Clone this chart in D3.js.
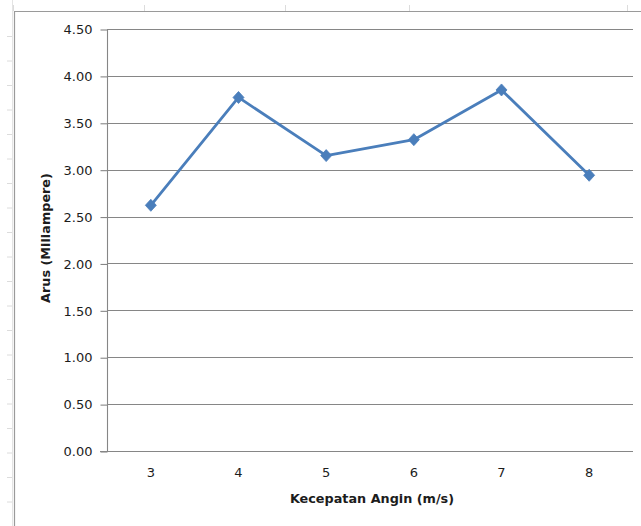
<!DOCTYPE html>
<html>
<head>
<meta charset="utf-8">
<script src="https://cdn.jsdelivr.net/npm/d3@7"></script>
<style>
  html, body { margin: 0; padding: 0; background: #ffffff; }
  svg { display: block; }
  text { font-family: "DejaVu Sans", sans-serif; fill: #1c1c1c; }
</style>
</head>
<body>
<svg id="chart" width="641" height="526"></svg>
<script>
// Wind speed categories (m/s)
const speeds = ["3", "4", "5", "6", "7", "8"];
// Measured current (milliampere)
const current = [2.62, 3.77, 3.15, 3.32, 3.85, 2.94];
// Value axis ticks
const yTicks = [0, 0.5, 1, 1.5, 2, 2.5, 3, 3.5, 4, 4.5];
// Sheet row / column boundaries peeking around the chart frame
const sheetRows = [36.5, 61, 85.5, 110, 134.5, 159, 183.5, 208, 232.5, 257, 281.5, 306, 330.5, 355, 379.5, 404, 428.5, 453, 477.5, 502];
const sheetCols = [13, 144, 285, 409, 627];

const svg = d3.select("#chart");
const W = 641, H = 526;
const plot = { left: 107, right: 633, top: 29, bottom: 451 };

// spreadsheet backdrop
const sheet = svg.append("g");
sheet.selectAll("line.row").data(sheetRows).join("line")
  .attr("x1", 7).attr("x2", 13)
  .attr("y1", d => d).attr("y2", d => d)
  .attr("stroke", "#dcdcdc").attr("stroke-width", 1);
sheet.selectAll("line.col").data(sheetCols).join("line")
  .attr("x1", d => d + 0.5).attr("x2", d => d + 0.5)
  .attr("y1", 5).attr("y2", 11)
  .attr("stroke", "#dcdcdc").attr("stroke-width", 1);
sheet.append("line").attr("x1", 12.5).attr("x2", 12.5).attr("y1", 0).attr("y2", H)
  .attr("stroke", "#e4e4e4");

// chart frame
svg.append("path")
  .attr("d", `M14.5,${H} V11.5 H${W}`)
  .attr("fill", "none").attr("stroke", "#9a9a9a").attr("stroke-width", 1.2);

const x = d3.scaleBand().domain(speeds).range([plot.left, plot.right]);
const y = d3.scaleLinear().domain([0, 4.5]).range([plot.bottom, plot.top]);

// horizontal gridlines
svg.append("g").selectAll("line").data(yTicks.filter(d => d > 0)).join("line")
  .attr("x1", plot.left).attr("x2", plot.right)
  .attr("y1", d => Math.round(y(d)) + 0.5).attr("y2", d => Math.round(y(d)) + 0.5)
  .attr("stroke", "#868686").attr("stroke-width", 1.1);

// value axis
const yAxis = svg.append("g")
  .attr("transform", `translate(${plot.left + 0.5},0.5)`)
  .call(d3.axisLeft(y).tickValues(yTicks).tickFormat(d3.format(".2f")).tickSize(7).tickPadding(8));
yAxis.select(".domain").attr("stroke", "#868686").attr("stroke-width", 1.1).attr("d", `M-0,${plot.bottom}V${plot.top}`);
yAxis.selectAll(".tick line").attr("stroke", "#868686").attr("stroke-width", 1.1);
yAxis.selectAll(".tick text").attr("font-size", 13).attr("fill", "#1c1c1c")
  .attr("font-family", "DejaVu Sans, sans-serif");

// category axis
const xAxis = svg.append("g")
  .attr("transform", `translate(0,${plot.bottom + 0.5})`)
  .call(d3.axisBottom(x).tickSize(0).tickPadding(16));
xAxis.select(".domain").attr("stroke", "#868686").attr("stroke-width", 1.1).attr("d", `M${plot.left - 7},0H${plot.right}`);
xAxis.selectAll(".tick text").attr("font-size", 13).attr("fill", "#1c1c1c")
  .attr("font-family", "DejaVu Sans, sans-serif");

// data line
const cx = d => x(d) + x.bandwidth() / 2;
const pts = speeds.map((s, i) => [cx(s), y(current[i])]);
svg.append("path")
  .attr("d", d3.line()(pts))
  .attr("fill", "none").attr("stroke", "#4a7ebb").attr("stroke-width", 2.8)
  .attr("stroke-linejoin", "round");

// diamond markers
svg.append("g").selectAll("path").data(pts).join("path")
  .attr("transform", d => `translate(${d[0]},${d[1]})`)
  .attr("d", "M0,-6L5.5,0L0,6L-5.5,0Z")
  .attr("fill", "#4a7ebb").attr("stroke", "#4a7ebb").attr("stroke-width", 0.8);

// axis titles
svg.append("text")
  .attr("x", (plot.left + plot.right) / 2 + 2).attr("y", 503)
  .attr("text-anchor", "middle").attr("font-size", 12.8).attr("font-weight", "bold")
  .text("Kecepatan Angin (m/s)");
svg.append("text")
  .attr("transform", `translate(50,238) rotate(-90)`)
  .attr("text-anchor", "middle").attr("font-size", 12.8).attr("font-weight", "bold")
  .text("Arus (Miliampere)");
</script>
</body>
</html>
